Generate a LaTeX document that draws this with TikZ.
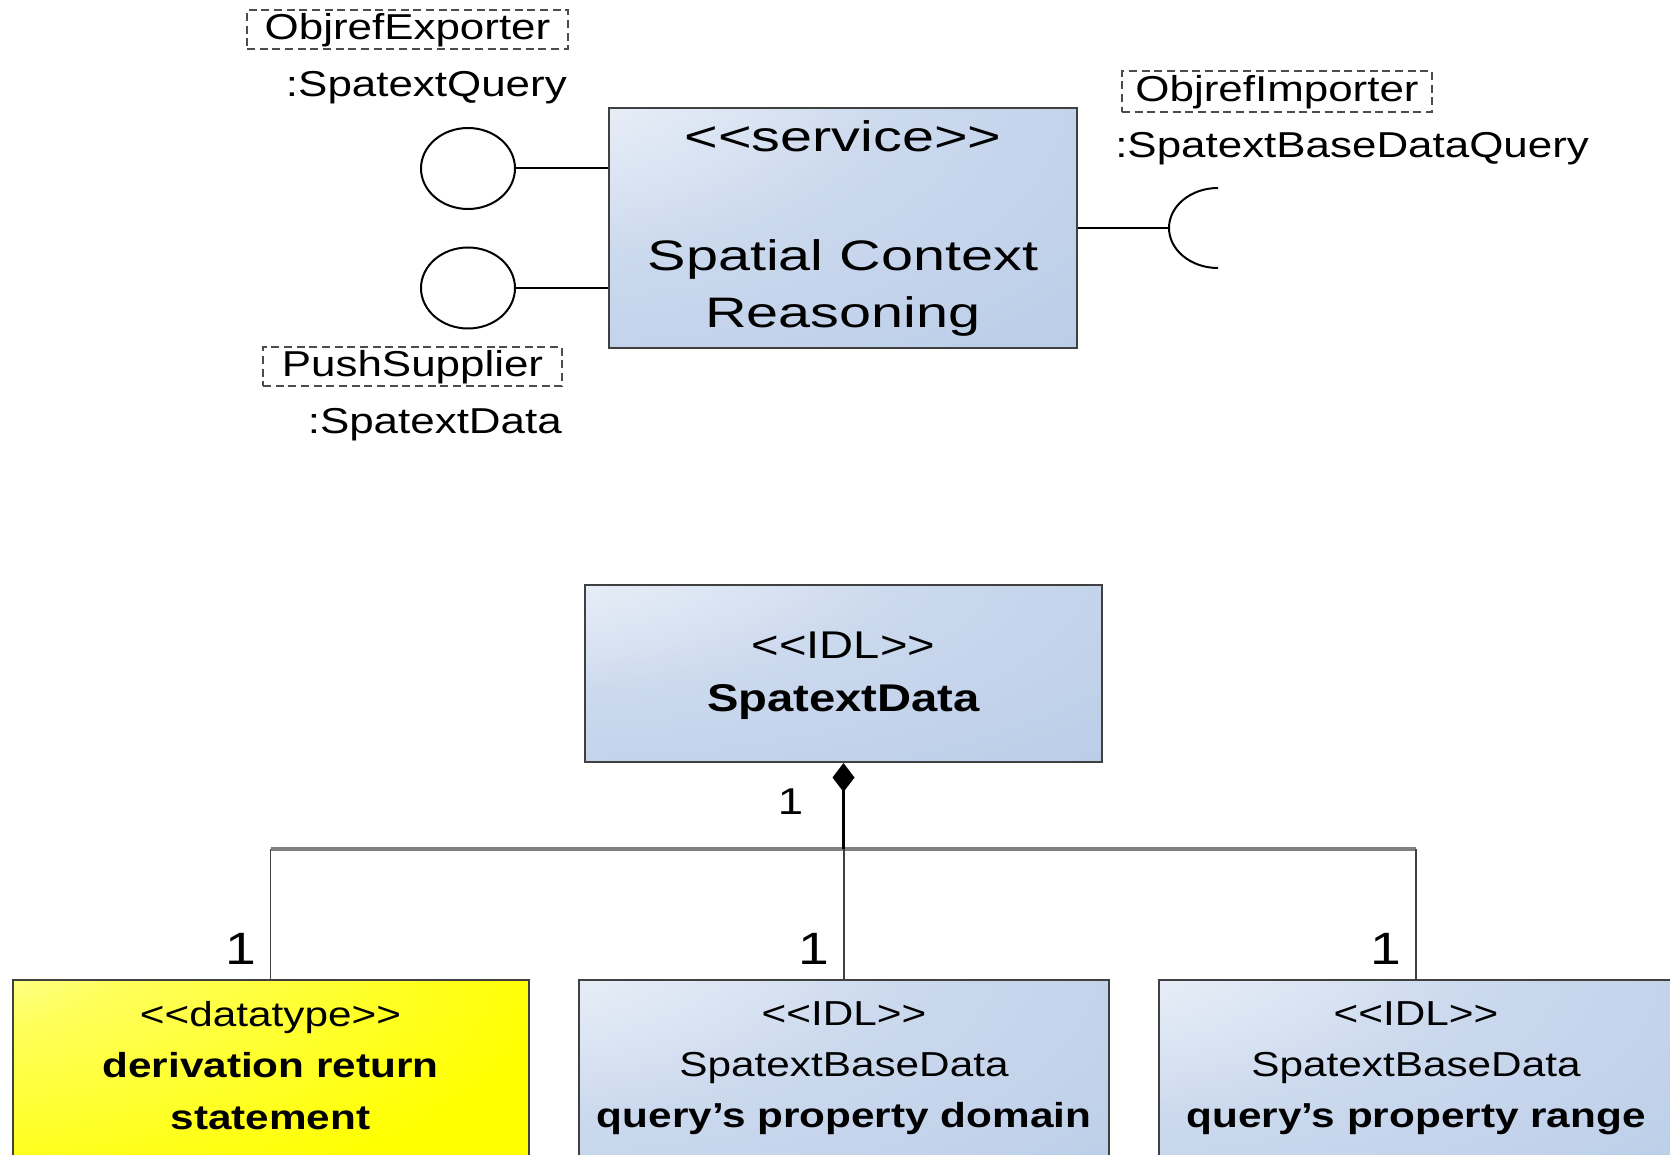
\documentclass[tikz,border=0pt]{standalone}
\usepackage{fontspec}
\setmainfont{Liberation Sans}[FakeStretch=1.22]
\newfontfamily\svcfont{Liberation Sans}[FakeStretch=1.35]
\usetikzlibrary{arrows.meta,shapes.geometric}
\definecolor{boxblue}{RGB}{172,194,227}
\definecolor{boxline}{RGB}{64,64,64}
\pgfdeclareradialshading{bluefade}{\pgfpoint{-50bp}{50bp}}{%
  color(0bp)=(white); color(6bp)=(white); color(40bp)=(boxblue!62);
  color(85bp)=(boxblue!96); color(120bp)=(boxblue)}
\pgfdeclareradialshading{yellowfade}{\pgfpoint{-50bp}{50bp}}{%
  color(0bp)=(white); color(5bp)=(white); color(28bp)=(yellow!65);
  color(55bp)=(yellow); color(120bp)=(yellow)}

\begin{document}
\begin{tikzpicture}[x=0.75pt, y=-0.75pt,
  lbl/.style={font=\fontsize{27}{32}\selectfont, inner sep=0pt},
  port/.style={lbl, draw=gray!60!black, dash pattern=on 6pt off 3.5pt,
               line width=1pt, text height=19.4pt, text depth=4.3pt},
  iface/.style={ellipse, draw, line width=1.5pt, inner sep=0pt,
                minimum width=70.5pt, minimum height=60.75pt},
  sbox/.style={draw=boxline, line width=1.5pt, inner sep=0pt, shade, shading=bluefade},
  ybox/.style={sbox, shading=yellowfade},
  svc/.style={font=\svcfont\fontsize{32}{42.75}\selectfont, align=center, inner sep=0pt},
  cls/.style={align=center, inner sep=0pt},
  ln/.style={line width=1.5pt, black},
  bus/.style={line width=2.5pt, gray},
  leg/.style={line width=1.2pt, black!75},
  comp/.style={{Diamond[length=21.75pt, width=16.5pt]}-, line width=1.6pt, black},
  mult/.style={font=\fontsize{34}{40}\selectfont, inner sep=0pt},
  smult/.style={font=\fontsize{28}{34}\selectfont, inner sep=0pt}]

\clip (0,0) rectangle (1670,1155);

% component with its interfaces
\node[sbox, minimum width=351pt, minimum height=180pt] (svc) at (843,228) {};
\node[svc, anchor=base] (svcst) at (843,152) {<{}<service>{}>};
\node[svc] (svcname) at (843,287.5) {Spatial Context\\Reasoning};

\node[iface] (qry) at (468,168.5) {};
\node[iface] (push) at (468,288) {};
\draw[ln] (qry.east) -- (qry.east -| svc.west);
\draw[ln] (push.east) -- (push.east -| svc.west);

\coordinate (sock) at (1169,228);
\draw[ln] (svc.east |- sock) -- (sock);
\draw[ln] (sock) ++(49,-40) arc[start angle=-90, end angle=-270, x radius=49, y radius=40];

\node[port, minimum width=240.75pt, minimum height=29.25pt] (expo) at (407.5,29.5) {ObjrefExporter};
\node[lbl, anchor=base east] (expot) at (567,97) {:SpatextQuery};
\node[port, minimum width=224.25pt, minimum height=29.25pt] (pushs) at (412.5,366.5) {PushSupplier};
\node[lbl, anchor=base east] (pusht) at (562,433) {:SpatextData};
\node[port, minimum width=232.5pt, minimum height=30.75pt] (impo) at (1277,91.5) {ObjrefImporter};
\node[lbl, anchor=base west] (impot) at (1115,158) {:SpatextBaseDataQuery};

% data structure
\node[sbox, minimum width=387.75pt, minimum height=132.75pt] (spd) at (843.5,673.5) {};
\node[cls, font=\fontsize{29}{39.75}\selectfont] (spdt) at (843.5,676)
  {<{}<IDL>{}>\\\textbf{SpatextData}};

\node[ybox, minimum width=387pt, minimum height=165pt] (ret) at (270.5,1090) {};
\node[sbox, minimum width=397.5pt, minimum height=165pt] (dom) at (844,1090) {};
\node[sbox, minimum width=385.5pt, minimum height=165pt] (rng) at (1416,1090) {};

\node[cls, font=\fontsize{26}{38.5}\selectfont, anchor=north] (rett) at ([yshift=-16.5pt]ret.north)
  {<{}<datatype>{}>\\\textbf{derivation return}\\\textbf{statement}};
\node[cls, font=\fontsize{26}{38.5}\selectfont, anchor=north] (domt) at ([yshift=-16.5pt]dom.north)
  {<{}<IDL>{}>\\SpatextBaseData\\\textbf{query's property domain}};
\node[cls, font=\fontsize{26}{38.5}\selectfont, anchor=north] (rngt) at ([yshift=-16.5pt]rng.north)
  {<{}<IDL>{}>\\SpatextBaseData\\\textbf{query's property range}};

\coordinate (busl) at (270.5,849);
\coordinate (busr) at (1416,849);
\draw[bus] (busl) -- (busr);
\draw[leg] (ret.north) -- (ret.north |- busl);
\draw[leg] (dom.north) -- (dom.north |- busl);
\draw[leg] (rng.north) -- (rng.north |- busl);
\draw[comp] (spd.south) -- (spd.south |- busl);

\node[smult, anchor=base east] (m0) at ([xshift=-30pt, yshift=-38.25pt]spd.south) {1};
\node[mult, anchor=base east] (m1) at ([xshift=-10.5pt, yshift=11.25pt]ret.north) {1};
\node[mult, anchor=base east] (m2) at ([xshift=-10.5pt, yshift=11.25pt]dom.north) {1};
\node[mult, anchor=base east] (m3) at ([xshift=-10.5pt, yshift=11.25pt]rng.north) {1};
\end{tikzpicture}
\end{document}
